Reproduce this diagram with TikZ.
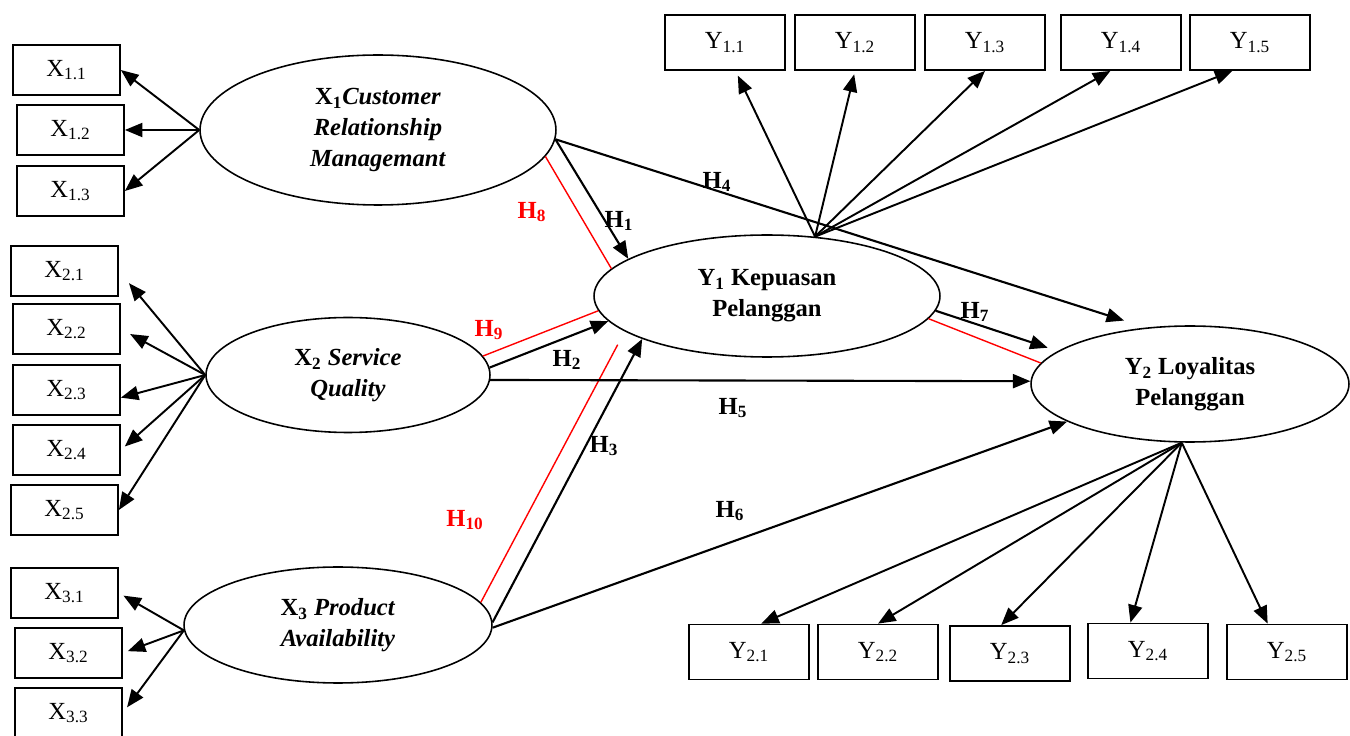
\documentclass[tikz,border=0pt]{standalone}
\usepackage{fontspec}
\setmainfont{Liberation Serif}
\usepackage{tikz}
\usetikzlibrary{arrows.meta,shapes.geometric}
\newcommand{\dfont}{\fontsize{14}{17.5}\selectfont}
\tikzstyle{ind} = [draw=black, line width=1pt, minimum width=2.14cm, minimum height=1cm, inner sep=0pt, font={\dfont}]
\tikzstyle{indy} = [ind, minimum width=2.4cm, minimum height=1.1cm]
\tikzstyle{lat} = [draw=black, line width=0.9pt, ellipse, inner sep=0pt, align=center, font={\dfont\bfseries}]
\tikzstyle{load} = [-{Triangle[length=10pt,width=8pt]}, line width=1.1pt]
\tikzstyle{hyp} = [load, line width=1.2pt]
\tikzstyle{med} = [draw=red, line width=0.8pt]
\tikzstyle{hlab} = [font={\dfont\bfseries}, inner sep=1pt]
\tikzstyle{hmed} = [hlab, text=red]

\begin{document}
\begin{tikzpicture}[x=0.02cm, y=-0.02cm]
  \useasboundingbox (0,0) rectangle (1350,736);
  % latent variables
  \node[lat, minimum width=7.12cm, minimum height=3cm](x1) at (378,130){X\textsubscript{1}\textit{Customer}\\\textit{Relationship}\\\textit{Managemant}};
  \node[lat, minimum width=5.68cm, minimum height=2.3cm](x2) at (348,375){X\textsubscript{2} \textit{Service}\\\textit{Quality}};
  \node[lat, minimum width=6.16cm, minimum height=2.32cm](x3) at (338,625){X\textsubscript{3} \textit{Product}\\\textit{Availability}};
  \node[lat, minimum width=6.92cm, minimum height=2.44cm](y1) at (767,296){Y\textsubscript{1} Kepuasan\\Pelanggan};
  \node[lat, minimum width=6.36cm, minimum height=2.32cm](y2) at (1190,384){Y\textsubscript{2} Loyalitas\\Pelanggan};
  % indicators
  \node[ind](x11) at (66.5,70){X\textsubscript{1.1}};
  \node[ind](x12) at (70.5,130){X\textsubscript{1.2}};
  \node[ind](x13) at (70.5,191){X\textsubscript{1.3}};
  \node[ind](x21) at (64.5,271){X\textsubscript{2.1}};
  \node[ind](x22) at (66.5,329){X\textsubscript{2.2}};
  \node[ind](x23) at (66.5,390){X\textsubscript{2.3}};
  \node[ind](x24) at (66.5,450){X\textsubscript{2.4}};
  \node[ind](x25) at (64.5,510){X\textsubscript{2.5}};
  \node[ind](x31) at (64.5,593){X\textsubscript{3.1}};
  \node[ind](x32) at (68.5,653){X\textsubscript{3.2}};
  \node[ind](x33) at (68.5,713){X\textsubscript{3.3}};
  \node[indy](y11) at (725,42.5){Y\textsubscript{1.1}};
  \node[indy](y12) at (855,42.5){Y\textsubscript{1.2}};
  \node[indy](y13) at (985,42.5){Y\textsubscript{1.3}};
  \node[indy](y14) at (1121,42.5){Y\textsubscript{1.4}};
  \node[indy](y15) at (1250,42.5){Y\textsubscript{1.5}};
  \node[indy](y21) at (749,652){Y\textsubscript{2.1}};
  \node[indy](y22) at (878,652){Y\textsubscript{2.2}};
  \node[indy](y23) at (1010,653.5){Y\textsubscript{2.3}};
  \node[indy](y24) at (1148,651){Y\textsubscript{2.4}};
  \node[indy](y25) at (1287,652){Y\textsubscript{2.5}};
  % loadings
  \draw[load](x1.west)--(x11.east);
  \draw[load](x1.west)--(x12.east);
  \draw[load](x1.west)--(x13.east);
  \draw[load,shorten >=9pt](x2.west)--(x21.east);
  \draw[load,shorten >=6pt](x2.west)--(x22.east);
  \draw[load](x2.west)--(x23.-8);
  \draw[load,shorten >=3pt](x2.west)--(x24.east);
  \draw[load](x2.west)--(x25.east);
  \draw[load,shorten >=3pt](x3.-178)--(x31.east);
  \draw[load,shorten >=3pt](x3.-178)--(x32.east);
  \draw[load,shorten >=4pt](x3.-178)--(x33.east);
  \draw[load,shorten >=3pt](y1.51)--([xshift=6pt]y11.south);
  \draw[load,shorten >=2pt](y1.51)--(y12.south);
  \draw[load](y1.51)--(y13.south);
  \draw[load](y1.51)--([xshift=-6pt]y14.south);
  \draw[load](y1.51)--([xshift=-10pt]y15.south);
  \draw[load](y2.-98)--([xshift=7pt]y21.north);
  \draw[load](y2.-98)--(y22.north);
  \draw[load](y2.-98)--([xshift=-5pt]y23.north);
  \draw[load](y2.-98)--([xshift=-10pt]y24.north);
  \draw[load](y2.-98)--([xshift=-11pt]y25.north);
  % hypotheses
  \draw[med](x1.-9)--(y1.170);
  \draw[med](x2.8)--(y1.-175);
  \draw[med,shorten >=8.5pt](x3.9)--(y1.-166.5);
  \draw[med](y1.-8)--(y2.172);
  \draw[hyp](x1.-3)--(y1.165);
  \draw[hyp](x2.3)--(y1.-171);
  \draw[hyp](x3.1)--(y1.-161);
  \draw[hyp,shorten >=13pt](x1.-3)--(y2.128);
  \draw[hyp](x2.-2)--(y2.179);
  \draw[hyp](x3.-1)--(y2.-163);
  \draw[hyp,shorten >=6pt](y1.-5)--(y2.166);
  \node[hlab](h1) at (619,221){H\textsubscript{1}};
  \node[hlab](h2) at (567,360){H\textsubscript{2}};
  \node[hlab](h3) at (604,446){H\textsubscript{3}};
  \node[hlab](h4) at (717,182){H\textsubscript{4}};
  \node[hlab](h5) at (733,408){H\textsubscript{5}};
  \node[hlab](h6) at (730,511){H\textsubscript{6}};
  \node[hlab](h7) at (975,312){H\textsubscript{7}};
  \node[hmed](h8) at (532,212){H\textsubscript{8}};
  \node[hmed](h9) at (489,330){H\textsubscript{9}};
  \node[hmed](h10) at (465,520){H\textsubscript{10}};
\end{tikzpicture}
\end{document}
